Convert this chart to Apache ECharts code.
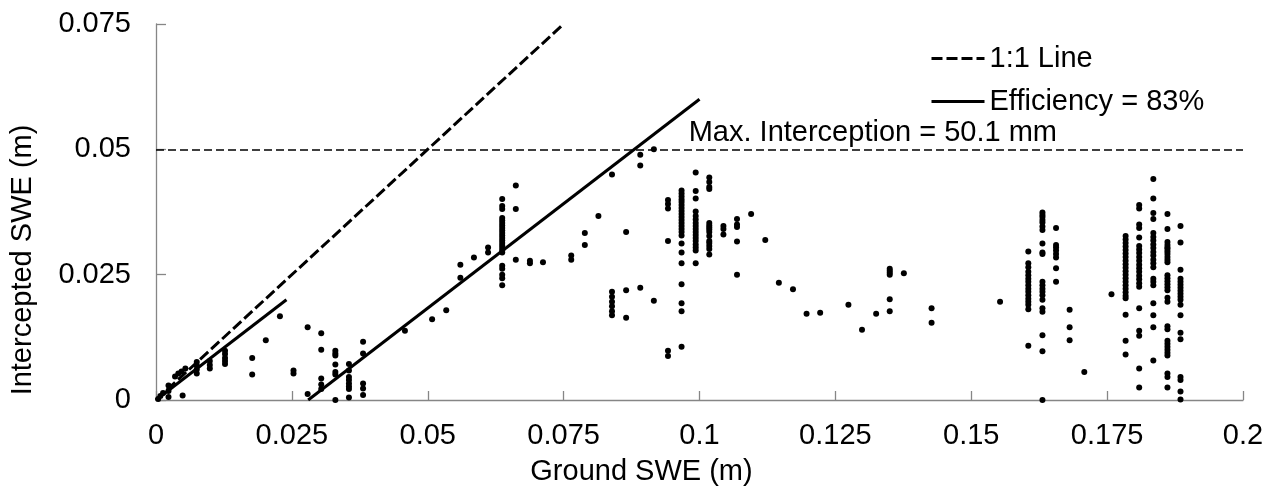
<!DOCTYPE html>
<html>
<head>
<meta charset="utf-8">
<script src="https://cdn.jsdelivr.net/npm/echarts@6/dist/echarts.min.js"></script>
<style>
html,body{margin:0;padding:0;background:#fff;}
#chart{width:1276px;height:491px;}
</style>
</head>
<body>
<div id="chart"></div>
<script>
// Ground SWE (m) for each column of observations
const colX = [0.0004,0.0008,0.0013,0.0023,0.0035,0.0041,0.0047,0.0049,0.0054,0.0075,0.0099,0.0127,0.0177,0.0202,0.0228,0.0253,0.0279,0.0304,0.0330,0.0355,0.0381,0.0458,0.0508,0.0534,0.0560,0.0585,0.0611,0.0637,0.0662,0.0688,0.0712,0.0764,0.0789,0.0814,0.0839,0.0865,0.0891,0.0916,0.0942,0.0967,0.0993,0.1018,0.1044,0.1069,0.1095,0.1121,0.1146,0.1172,0.1197,0.1222,0.1274,0.1299,0.1325,0.1350,0.1376,0.1427,0.1553,0.1605,0.1631,0.1656,0.1681,0.1708,0.1758,0.1784,0.1809,0.1835,0.1861,0.1885];
// Intercepted SWE (m) observed at each ground SWE value
const colY = [
 [0.0002],[0.0008],[0.0014],[0.0029,0.0018,0.0006],[0.0047],[0.0053],[0.0057],[0.0009],[0.0063],
 [0.0076,0.0069,0.0061,0.0053],[0.0078,0.0070,0.0063],[0.0098,0.0092,0.0084,0.0078,0.0072],
 [0.0084,0.0051],[0.0119],[0.0167],[0.0059,0.0053],[0.0145,0.0012],
 [0.0133,0.0100,0.0043,0.0031,0.0022],[0.0098,0.0093,0.0089,0.0071,0.0056,0.0051,0.0],
 [0.0072,0.0059,0.0046,0.0040,0.0033,0.0027,0.0022,0.0005],[0.0116,0.0093,0.0033,0.0023,0.0010],
 [0.0138],[0.0161],[0.0179],[0.0270,0.0244],[0.0284],[0.0304,0.0294],
 [0.0401,0.0387,0.0381,0.0363,0.0358,0.0353,0.0348,0.0343,0.0338,0.0333,0.0328,0.0323,0.0318,0.0313,0.0308,0.0303,0.0298,0.0294,0.0268,0.0262,0.0250,0.0243,0.0229],
 [0.0428,0.0381,0.0280],[0.0278,0.0273],[0.0275],[0.0288,0.0280],[0.0333,0.0309],[0.0367],
 [0.0450,0.0216,0.0206,0.0196,0.0187,0.0177,0.0169],[0.0335,0.0219,0.0164],[0.0489,0.0468,0.0224],[0.0500,0.0198],
 [0.0399,0.0391,0.0382,0.0317,0.0098,0.0088],
 [0.0418,0.0412,0.0406,0.0400,0.0395,0.0389,0.0383,0.0377,0.0371,0.0365,0.0359,0.0353,0.0347,0.0341,0.0335,0.0328,0.0312,0.0294,0.0273,0.0231,0.0193,0.0177,0.0106],
 [0.0454,0.0417,0.0402,0.0376,0.0367,0.0360,0.0353,0.0347,0.0341,0.0335,0.0329,0.0323,0.0317,0.0310,0.0304,0.0298,0.0273],
 [0.0444,0.0435,0.0425,0.0421,0.0353,0.0348,0.0344,0.0340,0.0335,0.0327,0.0317,0.0313,0.0307,0.0301,0.0290],
 [0.0347,0.0341,0.0330],[0.0361,0.0350,0.0345,0.0316,0.0250],[0.0371],[0.0319],[0.0234],[0.0221],[0.0172],[0.0174],
 [0.0190],[0.0140],[0.0172],[0.0262,0.0258,0.0254,0.0250,0.0201,0.0177],[0.0253],[0.0183,0.0154],[0.0196],
 [0.0296,0.0273,0.0265,0.0256,0.0249,0.0242,0.0236,0.0229,0.0222,0.0216,0.0209,0.0202,0.0196,0.0190,0.0181,0.0108],
 [0.0374,0.0369,0.0365,0.0359,0.0354,0.0346,0.0339,0.0312,0.0294,0.0291,0.0236,0.0229,0.0222,0.0216,0.0209,0.0200,0.0183,0.0176,0.0129,0.0097,0.0],
 [0.0343,0.0309,0.0304,0.0298,0.0291,0.0284,0.0263,0.0236],
 [0.0180,0.0145,0.0119],[0.0056],[0.0211],
 [0.0327,0.0320,0.0313,0.0306,0.0299,0.0292,0.0285,0.0278,0.0271,0.0264,0.0257,0.0250,0.0243,0.0236,0.0229,0.0222,0.0215,0.0208,0.0203,0.0170,0.0118,0.0091],
 [0.0389,0.0382,0.0350,0.0343,0.0324,0.0307,0.0300,0.0293,0.0285,0.0278,0.0270,0.0263,0.0256,0.0248,0.0241,0.0233,0.0226,0.0183,0.0138,0.0128,0.0063,0.0025],
 [0.0441,0.0402,0.0373,0.0361,0.0333,0.0325,0.0318,0.0310,0.0303,0.0295,0.0288,0.0280,0.0273,0.0265,0.0242,0.0236,0.0229,0.0193,0.0169,0.0145,0.0079],
 [0.0371,0.0341,0.0315,0.0309,0.0304,0.0301,0.0296,0.0291,0.0285,0.0280,0.0275,0.0249,0.0243,0.0237,0.0231,0.0225,0.0219,0.0204,0.0196,0.0147,0.0141,0.0118,0.0112,0.0106,0.0100,0.0094,0.0089,0.0053,0.0046,0.0025],
 [0.0347,0.0314,0.0260,0.0242,0.0236,0.0230,0.0224,0.0218,0.0212,0.0206,0.0200,0.0190,0.0169,0.0134,0.0121,0.0046,0.0040,0.0017,0.0001]
];
// reference lines
const oneToOneX = [0, 0.075];
const oneToOneY = [0, 0.075];
const effShortX = [0, 0.024];
const effShortY = [0, 0.02];
const effLongX = [0.028, 0.1];
const effLongY = [0, 0.06];
const maxInterception = 0.05;
const maxLabel = 'Max. Interception = 50.1 mm';
const xTicks = ['0','0.025','0.05','0.075','0.1','0.125','0.15','0.175','0.2'];
const yTicks = ['0','0.025','0.05','0.075'];

const pts = [];
colX.forEach((x, i) => colY[i].forEach(y => pts.push([x, y])));
const pair = (xs, ys) => xs.map((x, i) => [x, ys[i]]);

const FONT = '"Liberation Sans", Arial, sans-serif';
const FS = 29;
const axisGrey = '#868686';

const chart = echarts.init(document.getElementById('chart'), null, {renderer: 'canvas'});
chart.setOption({
  animation: false,
  backgroundColor: '#fff',
  textStyle: {fontFamily: FONT},
  grid: {left: 152, right: 33, top: 24, bottom: 84, containLabel: false},
  legend: {
    data: ['1:1 Line', 'Efficiency = 83%'],
    orient: 'vertical',
    left: 925, top: 38,
    itemWidth: 53, itemHeight: 14, itemGap: 12,
    itemStyle: {color: 'rgba(0,0,0,0)', borderWidth: 0, opacity: 0},
    lineStyle: {width: 3},
    textStyle: {fontSize: FS, color: '#000', fontFamily: FONT, lineHeight: 31},
    selectedMode: false
  },
  xAxis: {
    type: 'value', min: 0, max: 0.2, interval: 0.025,
    name: 'Ground SWE (m)', nameLocation: 'middle', nameGap: 57,
    nameTextStyle: {fontSize: FS, color: '#000', fontFamily: FONT, padding: [0, 116, 0, 0]},
    axisLine: {lineStyle: {color: axisGrey, width: 1.3}},
    axisTick: {inside: true, length: 9, lineStyle: {color: axisGrey, width: 1.3}},
    axisLabel: {fontSize: FS, color: '#000', margin: 21, fontFamily: FONT,
      formatter: v => xTicks[Math.round(v / 0.025)]},
    splitLine: {show: false}
  },
  yAxis: {
    type: 'value', min: 0, max: 0.075, interval: 0.025,
    name: 'Intercepted SWE (m)', nameLocation: 'middle', nameGap: 119,
    nameTextStyle: {fontSize: FS, color: '#000', fontFamily: FONT, padding: [0, 96, 0, 0]},
    axisLine: {lineStyle: {color: axisGrey, width: 1.3}},
    axisTick: {inside: true, length: 10, lineStyle: {color: axisGrey, width: 1.3}},
    axisLabel: {fontSize: FS, color: '#000', margin: 25, fontFamily: FONT,
      formatter: v => yTicks[Math.round(v / 0.025)]},
    splitLine: {show: false}
  },
  series: [
    {
      name: 'Observed', type: 'scatter', data: pts, symbolSize: 6,
      itemStyle: {color: '#000', opacity: 1}, silent: true,
      markLine: {
        silent: true, symbol: ['none', 'none'],
        lineStyle: {type: [8, 4], width: 1.5, color: '#000'},
        label: {show: true, position: 'insideEndTop', formatter: maxLabel, fontSize: FS,
          color: '#000', fontFamily: FONT, distance: [186, 2]},
        data: [{yAxis: maxInterception}]
      }
    },
    {
      name: '1:1 Line', type: 'line', data: pair(oneToOneX, oneToOneY), symbol: 'none',
      lineStyle: {color: '#000', width: 3, type: [11, 4]}, itemStyle: {color: '#000'}, silent: true
    },
    {
      name: 'Efficiency = 83%', type: 'line', data: pair(effShortX, effShortY), symbol: 'none',
      lineStyle: {color: '#000', width: 3}, itemStyle: {color: '#000'}, silent: true
    },
    {
      name: 'Efficiency = 83%', type: 'line', data: pair(effLongX, effLongY), symbol: 'none',
      lineStyle: {color: '#000', width: 3}, itemStyle: {color: '#000'}, silent: true
    }
  ]
});
</script>
</body>
</html>
